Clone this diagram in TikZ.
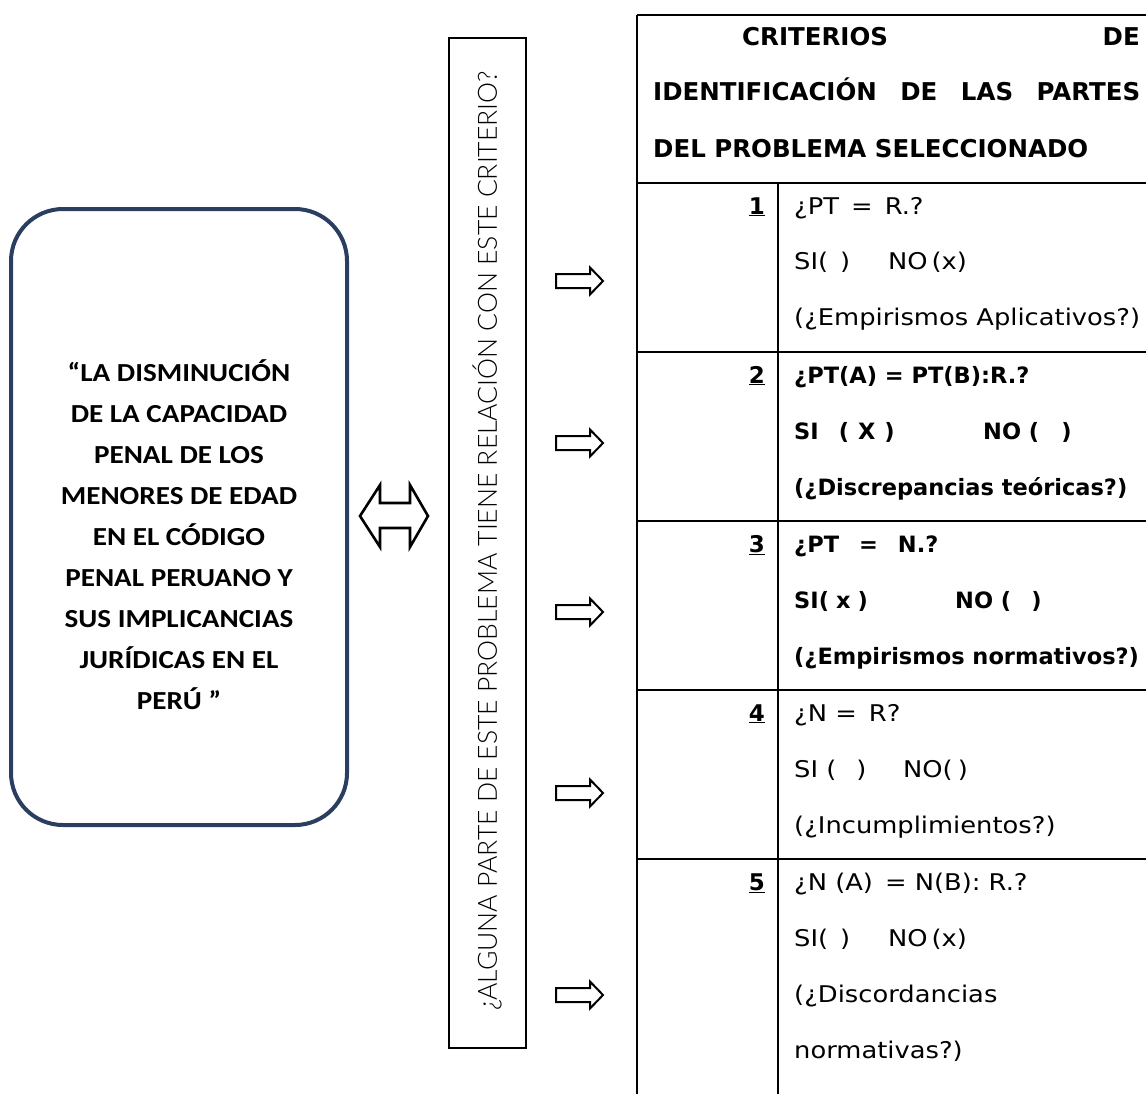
\documentclass[tikz,border=0pt]{standalone}
\usepackage{fontspec}
\newfontfamily\boxfont{Carlito}[FakeStretch=1.12]
\newfontfamily\vertfont{Lato Light}
\newfontfamily\tabfont{DejaVu Sans}[FakeStretch=1.12]
\newfontfamily\tabbold{DejaVu Sans}
\definecolor{boxblue}{RGB}{42,62,96}
\newcommand{\cellat}[2]{\makebox[#1][l]{#2}}
\tikzset{
  tabline/.style={line width=2.8pt},
  blockarrow/.style={draw=black, line width=2pt, fill=white, line join=miter},
  rowtext/.style={anchor=base west, inner sep=0pt, font=\tabfont\fontsize{23}{26}\selectfont},
  rowbold/.style={anchor=base west, inner sep=0pt, font=\tabbold\bfseries\fontsize{22.5}{26}\selectfont},
  numtext/.style={anchor=base east, inner sep=0pt, font=\tabbold\bfseries\fontsize{23}{26}\selectfont},
  headtext/.style={anchor=base west, inner sep=0pt, font=\tabbold\bfseries\fontsize{24.5}{28}\selectfont},
  rarrow/.pic={\draw[blockarrow] (-23,-7) -- (11,-7) -- (11,-13.5) -- (24,0) -- (11,13.5) -- (11,7) -- (-23,7) -- cycle;}
}
\begin{document}
\begin{tikzpicture}[x=1pt,y=-1pt]
\useasboundingbox (0,0) rectangle (1146,1093);
\clip (0,0) rectangle (1146,1093);
% left rounded box
\node[draw=boxblue, line width=4pt, rounded corners=52pt, minimum width=336pt, minimum height=616pt, inner sep=0pt] (title) at (179,517) {};
\node[align=center, inner sep=0pt, font=\boxfont\bfseries\fontsize{26}{41}\selectfont] (titletext) at (179,535)
  {“LA DISMINUCIÓN\\DE LA CAPACIDAD\\PENAL DE LOS\\MENORES DE EDAD\\EN EL CÓDIGO\\PENAL PERUANO Y\\SUS IMPLICANCIAS\\JURÍDICAS EN EL\\PERÚ ”};
% double arrow
\coordinate (dbl) at (394,516);
\draw[blockarrow, line width=2.6pt] (360,516) -- (380,485) -- (380,503) -- (410,503) -- (410,485) -- (428,516) -- (410,547) -- (410,528) -- (380,528) -- (380,547) -- cycle;
% vertical question box
\node[draw, line width=1.2pt, minimum width=77pt, minimum height=1010pt, inner sep=0pt] (qbox) at (487.5,543) {};
\node[rotate=90, inner sep=0pt, font=\vertfont\fontsize{26.5}{30}\selectfont] (qtext) at (487,541)
  {¿ALGUNA PARTE DE ESTE PROBLEMA TIENE RELACIÓN CON ESTE CRITERIO?};
% arrows
\pic at (579,281) {rarrow};
\pic at (579,443) {rarrow};
\pic at (579,612) {rarrow};
\pic at (579,793) {rarrow};
\pic at (579,995) {rarrow};
% table
\coordinate (tl) at (637,15);
\draw[tabline] (637,15) -- (1150,15);
\draw[tabline] (637,15) -- (637,1100);
\draw[tabline] (778,183) -- (778,1100);
\foreach \yy in {183,352,521,690,859} \draw[tabline] (637,\yy) -- (1150,\yy);
% header
\node[headtext] (h1a) at (742,45) {CRITERIOS};
\node[headtext, anchor=base east] (h1b) at (1140,45) {DE};
\node[headtext] (h2) at (653,100) {\makebox[487pt][s]{IDENTIFICACIÓN DE LAS PARTES}};
\node[headtext] (h3) at (653,157) {DEL PROBLEMA SELECCIONADO};
% row 1
\node[numtext] (n1) at (765,214) {\underline{1}};
\node[rowtext] (r1a) at (794,214) {¿PT \,=\, R.?};
\node[rowtext] (r1b) at (794,269) {\cellat{94pt}{SI(\hspace{12pt})}NO\,(x)};
\node[rowtext] (r1c) at (794,325) {(¿Empirismos Aplicativos?)};
% row 2
\node[numtext] (n2) at (765,383) {\underline{2}};
\node[rowbold] (r2a) at (794,383) {¿PT(A) = PT(B):R.?};
\node[rowbold] (r2b) at (794,439) {\cellat{189pt}{SI\hspace{20pt}(\hspace{9pt}X\hspace{9pt})}NO (\hspace{22pt})};
\node[rowbold] (r2c) at (794,495) {(¿Discrepancias teóricas?)};
% row 3
\node[numtext] (n3) at (765,552) {\underline{3}};
\node[rowbold] (r3a) at (794,552) {¿PT\hspace{20pt}=\hspace{20pt}N.?};
\node[rowbold] (r3b) at (794,608) {\cellat{161pt}{SI(\hspace{7pt}x\hspace{7pt})}NO (\hspace{20pt})};
\node[rowbold] (r3c) at (794,664) {(¿Empirismos normativos?)};
% row 4
\node[numtext] (n4) at (765,721) {\underline{4}};
\node[rowtext] (r4a) at (794,721) {¿N = \,R?};
\node[rowtext] (r4b) at (794,777) {\cellat{109pt}{SI (\hspace{20pt})}NO(\hspace{5pt})};
\node[rowtext] (r4c) at (794,833) {(¿Incumplimientos?)};
% row 5
\node[numtext] (n5) at (765,890) {\underline{5}};
\node[rowtext] (r5a) at (794,890) {¿N (A) \,= N(B): R.?};
\node[rowtext] (r5b) at (794,946) {\cellat{94pt}{SI(\hspace{12pt})}NO\,(x)};
\node[rowtext] (r5c) at (794,1002) {(¿Discordancias};
\node[rowtext] (r5d) at (794,1058) {normativas?)};
\end{tikzpicture}
\end{document}
